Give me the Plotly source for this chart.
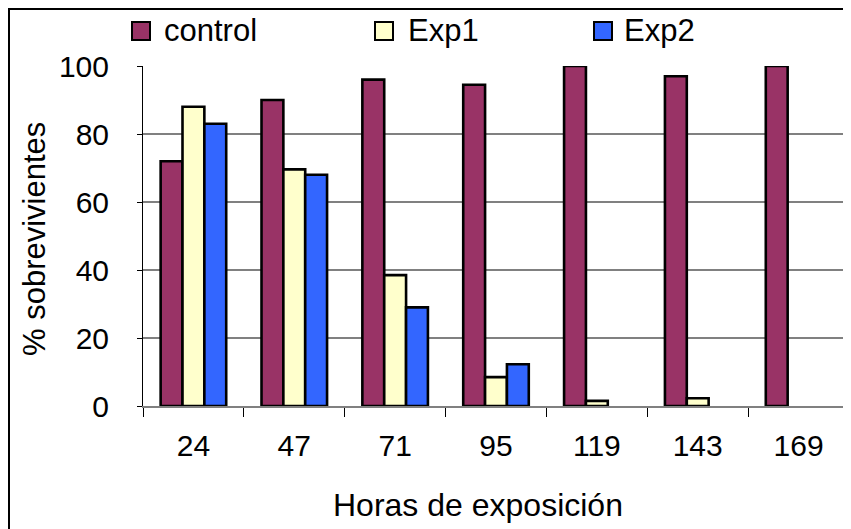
import plotly.graph_objects as go

hours = ["24", "47", "71", "95", "119", "143", "169"]
control = [72, 90, 96, 94.5, 100, 97, 100]
exp1 = [88, 69.6, 38.5, 8.5, 1.5, 2.3, 0]
exp2 = [83, 68, 29, 12.3, 0, 0, 0]
series_names = ["control", "Exp1", "Exp2"]
colors = ["#993366", "#FFFFCC", "#3366FF"]
y_ticks = [0, 20, 40, 60, 80, 100]

OFF = 8  # page body margin
W, H = 851 - OFF, 529 - OFF
L, R, T, B = 143, 849, 66, 406  # screen pixels of plot area
pw, ph = R - L, B - T

def px(x):
    return (x - L) / pw

def py(y):
    return (B - y) / ph

FONT = "Liberation Sans, Arial, sans-serif"
TS = 30
LS = 31

fig = go.Figure()
for name, vals, col in zip(series_names, [control, exp1, exp2], colors):
    fig.add_trace(go.Bar(
        x=hours, y=vals, name=name,
        marker=dict(color=col, line=dict(color="#000000",
                                         width=[2.6 if v > 0 else 0 for v in vals])),
        showlegend=False,
    ))

shapes = []
shapes.append(dict(type="rect", xref="paper", yref="paper",
                   x0=px(9), x1=px(880), y0=py(580), y1=py(9),
                   line=dict(color="#000000", width=2), fillcolor="rgba(0,0,0,0)", layer="below"))
shapes.append(dict(type="line", xref="paper", yref="paper", x0=1, x1=1, y0=0, y1=1,
                   line=dict(color="#808080", width=2)))

annotations = []
legend_pos = [(132, 162), (375, 406), (594, 622)]
for (sx, tx), name, col in zip(legend_pos, series_names, colors):
    shapes.append(dict(type="rect", xref="paper", yref="paper",
                       x0=px(sx), x1=px(sx + 18), y0=py(40), y1=py(22),
                       line=dict(color="#000000", width=2), fillcolor=col))
    annotations.append(dict(text=name, xref="paper", yref="paper", x=px(tx), y=py(31),
                            xanchor="left", yanchor="middle", showarrow=False,
                            font=dict(family=FONT, size=LS, color="#000000")))

annotations.append(dict(text="Horas de exposición", xref="paper", yref="paper",
                        x=px(478), y=py(505), xanchor="center", yanchor="middle",
                        showarrow=False, font=dict(family=FONT, size=32, color="#000000")))
annotations.append(dict(text="% sobrevivientes", xref="paper", yref="paper",
                        x=px(34), y=py(239), xanchor="center", yanchor="middle", textangle=-90,
                        showarrow=False, font=dict(family=FONT, size=LS, color="#000000")))

fig.update_layout(
    width=W, height=H,
    margin=dict(l=L - OFF, r=W - (R - OFF), t=T - OFF, b=H - (B - OFF), pad=0),
    paper_bgcolor="white", plot_bgcolor="white",
    barmode="group", bargap=0.35, bargroupgap=0,
    font=dict(family=FONT, size=TS, color="#000000"),
    shapes=shapes, annotations=annotations,
    showlegend=False,
)
fig.update_xaxes(
    type="category", tickson="boundaries", ticks="outside", ticklen=9, tickcolor="#000000",
    tickwidth=1, showline=True, linecolor="#808080", linewidth=2, showgrid=False,
    ticklabelstandoff=12, tickfont=dict(family=FONT, size=TS, color="#000000"), automargin=False,
)
fig.update_yaxes(
    range=[0, 100], tickvals=y_ticks, ticks="outside", ticklen=5, tickcolor="#000000",
    showline=True, linecolor="#000000", linewidth=1, showgrid=True, gridcolor="#808080",
    gridwidth=2, zeroline=False, ticklabelstandoff=22,
    tickfont=dict(family=FONT, size=TS, color="#000000"), automargin=False,
)

fig.write_html("out.html")
